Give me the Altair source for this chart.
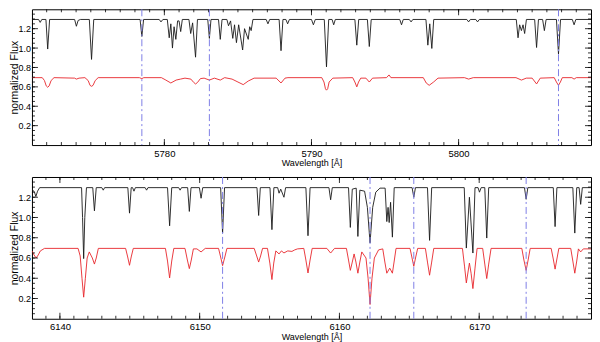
import altair as alt
import pandas as pd

# ---------------- data ----------------
TOP_BLACK = [
    (5771.0, 1.295), (5771.45, 1.295), (5771.56, 1.265), (5771.67, 1.295),
    (5771.95, 1.295), (5772.07, 0.99), (5772.2, 1.295), (5773.9, 1.295),
    (5774.02, 1.225), (5774.14, 1.285), (5774.3, 1.295), (5774.9, 1.295),
    (5775.05, 0.883), (5775.2, 1.295), (5778.35, 1.295), (5778.47, 1.12),
    (5778.59, 1.295), (5779.65, 1.295), (5779.77, 1.27), (5779.9, 1.295),
    (5780.2, 1.295), (5780.33, 1.106), (5780.44, 1.25), (5780.55, 1.0),
    (5780.66, 1.22), (5780.78, 1.09), (5780.9, 1.28), (5781.0, 1.28),
    (5781.11, 1.17), (5781.22, 1.295), (5781.67, 1.295), (5781.79, 1.15),
    (5781.92, 1.26), (5782.12, 0.906), (5782.25, 1.295), (5782.95, 1.295),
    (5783.06, 1.10), (5783.17, 1.295), (5783.68, 1.295), (5783.8, 1.09),
    (5783.92, 1.295), (5784.25, 1.295), (5784.36, 1.23), (5784.5, 1.28),
    (5784.65, 1.10), (5784.77, 1.24), (5784.9, 1.056), (5785.05, 1.24),
    (5785.32, 0.98), (5785.45, 1.20), (5785.7, 1.09), (5785.8, 1.22),
    (5785.9, 1.18), (5786.02, 1.295), (5786.92, 1.295), (5787.04, 1.25),
    (5787.16, 1.295), (5787.8, 1.295), (5787.93, 0.973), (5788.06, 1.295),
    (5788.26, 1.295), (5788.38, 1.25), (5788.5, 1.295), (5790.0, 1.295),
    (5790.13, 1.24), (5790.26, 1.295), (5790.87, 1.295), (5791.02, 0.806),
    (5791.17, 1.295), (5791.4, 1.295), (5791.51, 1.24), (5791.62, 1.295),
    (5792.95, 1.295), (5793.08, 1.03), (5793.21, 1.295), (5793.8, 1.295),
    (5793.93, 1.016), (5794.06, 1.295), (5796.0, 1.295), (5796.12, 1.24),
    (5796.24, 1.295), (5796.65, 1.295), (5796.77, 1.27), (5796.89, 1.295),
    (5797.78, 1.295), (5797.91, 1.03), (5798.04, 1.25), (5798.18, 0.996),
    (5798.31, 1.295), (5800.56, 1.295), (5800.68, 1.27), (5800.8, 1.295),
    (5801.17, 1.295), (5801.29, 1.27), (5801.41, 1.295), (5803.92, 1.295),
    (5804.04, 1.106), (5804.15, 1.24), (5804.27, 1.18), (5804.38, 1.24),
    (5804.49, 1.15), (5804.61, 1.295), (5805.17, 1.295), (5805.3, 1.006),
    (5805.43, 1.295), (5805.71, 1.295), (5805.83, 1.18), (5805.95, 1.295),
    (5806.65, 1.295), (5806.79, 0.94), (5806.93, 1.295), (5807.73, 1.295),
    (5807.85, 1.24), (5807.97, 1.295), (5809.0, 1.295),
]

TOP_RED = [
    (5771.0, 0.695), (5771.7, 0.695), (5771.85, 0.665), (5771.97, 0.61),
    (5772.07, 0.596), (5772.17, 0.61), (5772.3, 0.665), (5772.5, 0.695),
    (5773.9, 0.69), (5774.02, 0.68), (5774.2, 0.69), (5774.6, 0.695),
    (5774.82, 0.665), (5774.95, 0.615), (5775.05, 0.606), (5775.15, 0.615),
    (5775.3, 0.665), (5775.5, 0.695), (5778.3, 0.695), (5778.47, 0.685),
    (5778.6, 0.695), (5779.8, 0.695), (5780.1, 0.67), (5780.44, 0.64),
    (5780.8, 0.67), (5781.1, 0.68), (5781.4, 0.69), (5781.8, 0.68),
    (5782.0, 0.645), (5782.12, 0.63), (5782.25, 0.645), (5782.45, 0.685),
    (5782.7, 0.69), (5783.06, 0.67), (5783.4, 0.69), (5783.8, 0.67),
    (5784.1, 0.695), (5784.6, 0.68), (5785.0, 0.65), (5785.36, 0.623),
    (5785.7, 0.66), (5786.1, 0.69), (5787.6, 0.69), (5787.93, 0.64),
    (5788.2, 0.69), (5788.4, 0.695), (5790.7, 0.695), (5790.85, 0.65),
    (5790.95, 0.58), (5791.02, 0.566), (5791.1, 0.58), (5791.2, 0.65),
    (5791.45, 0.69), (5792.8, 0.695), (5792.95, 0.65), (5793.08, 0.60),
    (5793.2, 0.65), (5793.35, 0.69), (5793.7, 0.69), (5793.93, 0.65),
    (5794.15, 0.69), (5795.1, 0.695), (5795.27, 0.723), (5795.4, 0.695),
    (5797.6, 0.695), (5797.8, 0.64), (5798.0, 0.616), (5798.3, 0.65),
    (5798.6, 0.69), (5800.4, 0.695), (5800.68, 0.68), (5801.0, 0.695),
    (5803.9, 0.695), (5804.27, 0.67), (5804.6, 0.69), (5805.0, 0.69),
    (5805.3, 0.63), (5805.55, 0.69), (5806.5, 0.695), (5806.65, 0.65),
    (5806.79, 0.616), (5806.92, 0.65), (5807.05, 0.695), (5807.7, 0.695),
    (5807.85, 0.68), (5808.0, 0.695), (5809.0, 0.695),
]

BOT_BLACK = [
    (6138.0, 1.28), (6138.18, 1.25), (6138.28, 1.207), (6138.4, 1.26),
    (6138.55, 1.295), (6141.55, 1.295), (6141.62, 1.0), (6141.7, 0.594),
    (6141.78, 1.0), (6141.9, 1.295), (6142.35, 1.295), (6142.47, 1.066),
    (6142.6, 1.295), (6143.0, 1.295), (6143.1, 1.27), (6143.2, 1.295),
    (6144.86, 1.295), (6144.98, 1.043), (6145.1, 1.295), (6145.2, 1.295),
    (6145.3, 1.26), (6145.4, 1.295), (6146.1, 1.295), (6146.2, 1.27),
    (6146.3, 1.295), (6147.7, 1.295), (6147.85, 0.918), (6148.0, 1.295),
    (6148.5, 1.295), (6148.6, 1.27), (6148.7, 1.295), (6149.14, 1.295),
    (6149.26, 1.06), (6149.38, 1.295), (6149.98, 1.295), (6150.1, 1.19),
    (6150.22, 1.295), (6151.5, 1.295), (6151.64, 0.846), (6151.78, 1.295),
    (6154.1, 1.295), (6154.22, 1.02), (6154.34, 1.295), (6155.03, 1.295),
    (6155.17, 0.88), (6155.31, 1.295), (6155.58, 1.295), (6155.68, 1.24),
    (6155.8, 1.28), (6156.03, 1.20), (6156.15, 1.295), (6157.6, 1.295),
    (6157.75, 0.82), (6157.9, 1.295), (6159.25, 1.295), (6159.37, 1.175),
    (6159.49, 1.295), (6160.65, 1.295), (6160.78, 0.902), (6160.92, 1.28),
    (6161.2, 1.29), (6161.32, 0.813), (6161.46, 1.27), (6161.8, 1.26),
    (6162.0, 1.10), (6162.19, 0.75), (6162.38, 1.10), (6162.6, 1.25),
    (6162.9, 1.29), (6163.27, 1.29), (6163.39, 0.96), (6163.48, 1.10),
    (6163.56, 0.95), (6163.66, 1.15), (6163.79, 0.806), (6163.92, 1.295),
    (6165.2, 1.295), (6165.32, 1.20), (6165.44, 1.295), (6166.3, 1.295),
    (6166.45, 0.774), (6166.6, 1.295), (6168.93, 1.295), (6169.08, 0.698),
    (6169.3, 1.20), (6169.55, 0.649), (6169.7, 1.295), (6169.92, 1.295),
    (6170.02, 1.25), (6170.14, 1.295), (6170.4, 1.295), (6170.54, 0.797),
    (6170.68, 1.295), (6173.24, 1.295), (6173.36, 1.18), (6173.48, 1.295),
    (6175.3, 1.295), (6175.43, 0.91), (6175.56, 1.295), (6176.7, 1.295),
    (6176.84, 0.846), (6176.98, 1.295), (6177.15, 1.295), (6177.26, 1.13),
    (6177.38, 1.295), (6178.0, 1.295),
]

BOT_RED = [
    (6138.0, 0.67), (6138.15, 0.63), (6138.3, 0.60), (6138.45, 0.63),
    (6138.6, 0.67), (6138.9, 0.695), (6141.3, 0.695), (6141.45, 0.62),
    (6141.58, 0.40), (6141.7, 0.213), (6141.82, 0.40), (6141.95, 0.60),
    (6142.1, 0.66), (6142.32, 0.60), (6142.47, 0.54), (6142.6, 0.60),
    (6142.75, 0.695), (6144.7, 0.695), (6144.85, 0.61), (6144.98, 0.528),
    (6145.1, 0.61), (6145.25, 0.695), (6147.55, 0.695), (6147.7, 0.57),
    (6147.85, 0.403), (6148.0, 0.57), (6148.15, 0.695), (6148.95, 0.695),
    (6149.12, 0.58), (6149.26, 0.495), (6149.4, 0.58), (6149.55, 0.69),
    (6149.8, 0.69), (6150.1, 0.66), (6150.4, 0.695), (6151.35, 0.695),
    (6151.5, 0.61), (6151.64, 0.525), (6151.8, 0.61), (6151.95, 0.695),
    (6153.9, 0.695), (6154.08, 0.62), (6154.22, 0.56), (6154.36, 0.62),
    (6154.5, 0.695), (6154.85, 0.695), (6155.02, 0.55), (6155.17, 0.387),
    (6155.3, 0.55), (6155.45, 0.67), (6155.68, 0.64), (6155.85, 0.67),
    (6156.03, 0.65), (6156.3, 0.67), (6156.6, 0.665), (6156.8, 0.68),
    (6157.0, 0.69), (6157.45, 0.695), (6157.6, 0.58), (6157.75, 0.452),
    (6157.9, 0.58), (6158.05, 0.695), (6159.1, 0.695), (6159.37, 0.649),
    (6159.65, 0.695), (6160.5, 0.695), (6160.65, 0.58), (6160.78, 0.478),
    (6160.92, 0.56), (6161.05, 0.64), (6161.18, 0.56), (6161.32, 0.45),
    (6161.46, 0.56), (6161.6, 0.66), (6161.9, 0.60), (6162.05, 0.40),
    (6162.19, 0.141), (6162.33, 0.40), (6162.5, 0.60), (6162.8, 0.68),
    (6163.1, 0.69), (6163.25, 0.56), (6163.39, 0.45), (6163.6, 0.50),
    (6163.79, 0.45), (6163.92, 0.57), (6164.05, 0.695), (6165.05, 0.695),
    (6165.18, 0.61), (6165.32, 0.518), (6165.46, 0.61), (6165.6, 0.695),
    (6166.15, 0.695), (6166.3, 0.56), (6166.45, 0.43), (6166.6, 0.56),
    (6166.75, 0.695), (6168.8, 0.695), (6168.95, 0.52), (6169.08, 0.354),
    (6169.3, 0.55), (6169.42, 0.45), (6169.55, 0.298), (6169.7, 0.50),
    (6169.85, 0.695), (6170.25, 0.695), (6170.4, 0.54), (6170.54, 0.397),
    (6170.68, 0.54), (6170.85, 0.695), (6173.05, 0.695), (6173.2, 0.58),
    (6173.36, 0.478), (6173.5, 0.58), (6173.65, 0.695), (6175.15, 0.695),
    (6175.3, 0.59), (6175.43, 0.49), (6175.56, 0.59), (6175.7, 0.695),
    (6176.55, 0.695), (6176.7, 0.57), (6176.84, 0.45), (6176.98, 0.57),
    (6177.1, 0.69), (6177.26, 0.66), (6177.45, 0.69), (6178.0, 0.69),
]

TOP_MARKERS = [5778.47, 5783.06, 5806.79]
BOT_MARKERS = [6151.64, 6162.19, 6165.32, 6173.36]

TOP_XRANGE = [5771, 5809]
BOT_XRANGE = [6138, 6178]
TOP_MAJOR_X = [5780, 5790, 5800]
BOT_MAJOR_X = [6140, 6150, 6160, 6170]
Y_RANGE = [0, 1.4]
Y_LABELS = [0.2, 0.4, 0.6, 0.8, 1.0, 1.2]
Y_MINOR = [round(0.05 * i, 2) for i in range(1, 28)]

FONT = "Liberation Sans"
W = 560


def panel(black, red, markers, xrange, major_x, height):
    spec = pd.DataFrame(
        [(w, f, "obs") for w, f in black] + [(w, f, "model") for w, f in red],
        columns=["wl", "flux", "series"],
    )
    xscale = alt.Scale(domain=xrange, nice=False, zero=False)
    yscale = alt.Scale(domain=Y_RANGE, nice=False, zero=False)
    xaxis = alt.Axis(values=major_x, format="d", title="Wavelength [Å]",
                     ticks=False, domain=False, grid=False, labelOverlap=False,
                     labelFontSize=9.5, labelPadding=3,
                     titleFontSize=9, titlePadding=1)
    yaxis = alt.Axis(values=Y_LABELS, format=".1f", title="normalized Flux",
                     ticks=False, domain=False, grid=False, labelOverlap=False,
                     labelFontSize=9, labelPadding=1.5,
                     titleFontSize=10.5, titlePadding=-1.5)

    lines = alt.Chart(spec).mark_line(strokeWidth=0.9, clip=True).encode(
        x=alt.X("wl:Q", scale=xscale, axis=xaxis),
        y=alt.Y("flux:Q", scale=yscale, axis=yaxis),
        color=alt.Color("series:N",
                        scale=alt.Scale(domain=["obs", "model"],
                                        range=["#1a1a1a", "#e8262b"]),
                        legend=None),
        detail="series:N",
    )

    mk = pd.DataFrame({"wl": markers})
    rules = alt.Chart(mk).mark_rule(color="#8080e6", strokeWidth=1,
                                    strokeDash=[7, 3, 2, 3]).encode(
        x=alt.X("wl:Q", scale=xscale, axis=xaxis)
    )

    minor_x = pd.DataFrame({"v": list(range(xrange[0] + 1, xrange[1]))})
    majx = pd.DataFrame({"v": major_x})
    ymin = pd.DataFrame({"v": Y_MINOR})
    ymaj = pd.DataFrame({"v": Y_LABELS})

    def xt(df, y0, y1):
        return alt.Chart(df).mark_rule(color="#000", strokeWidth=0.8).encode(
            x=alt.X("v:Q", scale=xscale, axis=xaxis),
            y=alt.value(y0), y2=alt.value(y1))

    def yt(df, x0, x1):
        return alt.Chart(df).mark_rule(color="#000", strokeWidth=0.8).encode(
            y=alt.Y("v:Q", scale=yscale, axis=yaxis),
            x=alt.value(x0), x2=alt.value(x1))

    ticks = [
        xt(minor_x, height, height - 3), xt(minor_x, 0, 3),
        xt(majx, height, height - 6), xt(majx, 0, 6),
        yt(ymin, 0, 3), yt(ymin, W, W - 3),
        yt(ymaj, 0, 6), yt(ymaj, W, W - 6),
    ]
    return alt.layer(lines, *ticks, rules).properties(width=W, height=height)


top = panel(TOP_BLACK, TOP_RED, TOP_MARKERS, TOP_XRANGE, TOP_MAJOR_X, 136)
bot = panel(BOT_BLACK, BOT_RED, BOT_MARKERS, BOT_XRANGE, BOT_MAJOR_X, 142)

chart = alt.vconcat(top, bot, spacing=8).properties(
    padding={"left": 0, "top": 0, "right": 0, "bottom": 0}
).configure_view(stroke="#000", strokeWidth=1).configure_axis(
    labelFont=FONT, titleFont=FONT, labelColor="#000", titleColor="#000",
    titleFontWeight="normal", labelOverlap=False
)

chart.save("out.html", embed_options={"renderer": "svg", "actions": False})
